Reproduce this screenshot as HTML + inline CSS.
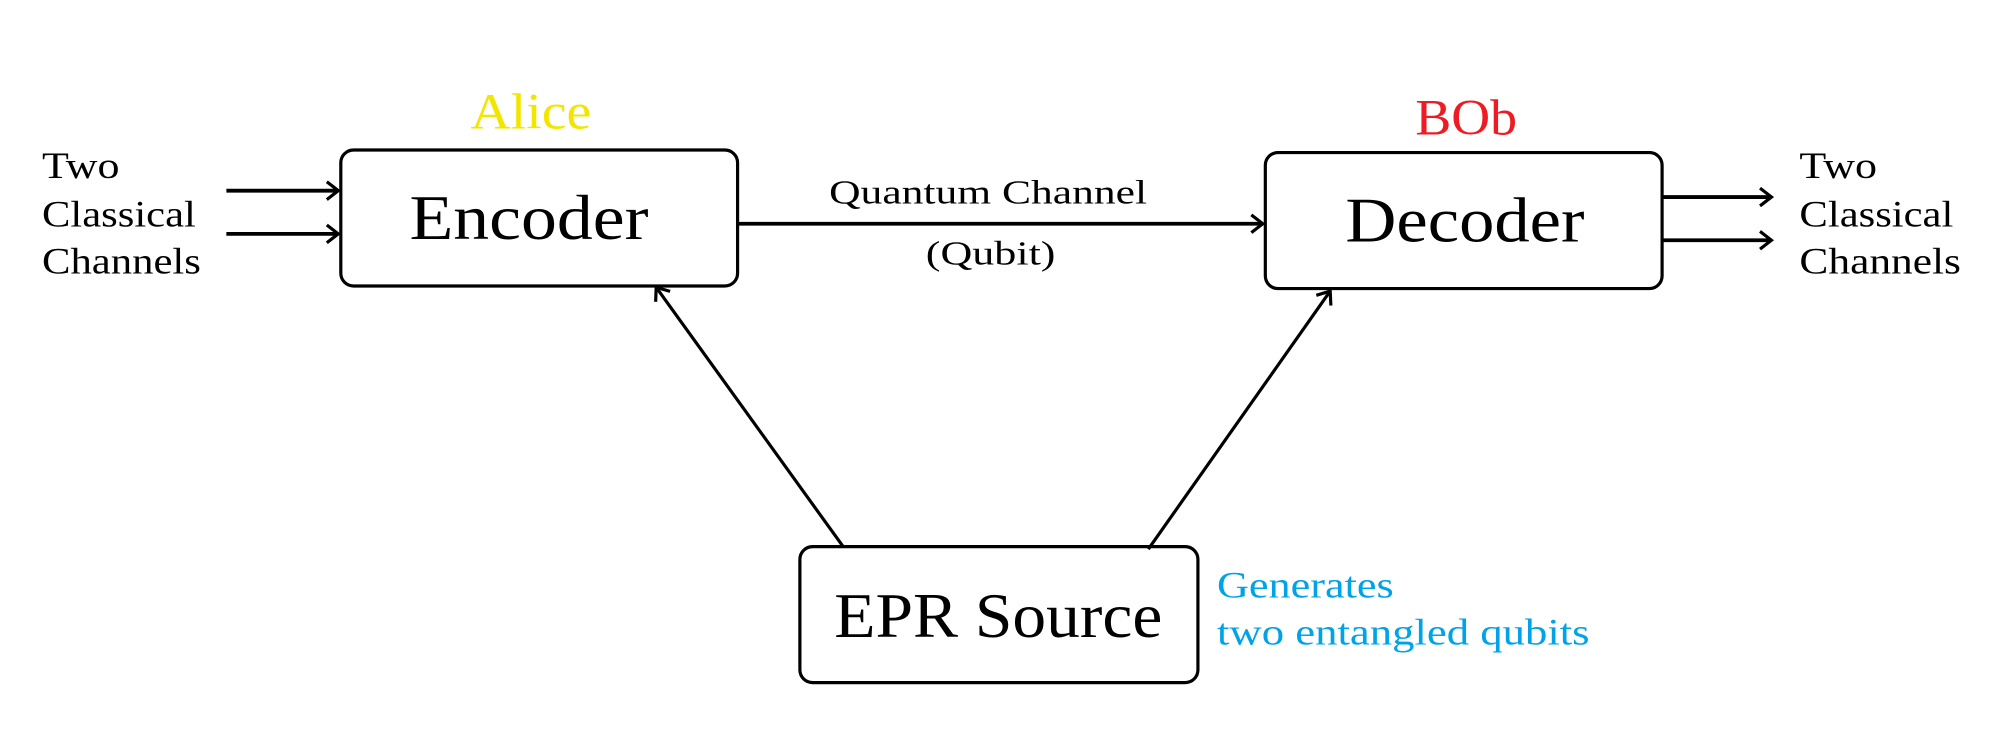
<!DOCTYPE html>
<html><head><style>html,body{margin:0;padding:0;background:#fff;}svg{display:block}</style></head>
<body>
<svg width="1994" height="750" viewBox="0 0 1568 590" preserveAspectRatio="none" xmlns="http://www.w3.org/2000/svg" font-family="'Liberation Serif', serif">
<defs>
<marker id="a" markerWidth="12" markerHeight="16" refX="10" refY="8" orient="auto" markerUnits="userSpaceOnUse">
<path d="M1,1 L10,8 L1,15" fill="none" stroke="#000" stroke-width="2.5"/>
</marker>
</defs>
<g fill="none" stroke="#000" stroke-width="2.5">
<rect x="268" y="118" width="312" height="107" rx="10"/>
<rect x="995" y="120" width="312" height="107" rx="10"/>
<rect x="629" y="430" width="313" height="107" rx="10"/>
<line x1="178" y1="150" x2="266" y2="150" marker-end="url(#a)" stroke-width="3"/>
<line x1="178" y1="184" x2="266" y2="184" marker-end="url(#a)" stroke-width="3"/>
<line x1="1307" y1="155" x2="1393" y2="155" marker-end="url(#a)" stroke-width="3"/>
<line x1="1307" y1="189" x2="1393" y2="189" marker-end="url(#a)" stroke-width="3"/>
<line x1="580" y1="176" x2="993" y2="176" marker-end="url(#a)" stroke-width="3"/>
<line x1="663" y1="430" x2="516" y2="226" marker-end="url(#a)"/>
<line x1="903" y1="432" x2="1046" y2="229" marker-end="url(#a)"/>
</g>
<g font-size="29" fill="#000" lengthAdjust="spacingAndGlyphs">
<text x="33" y="140" textLength="61" lengthAdjust="spacingAndGlyphs">Two</text>
<text x="33" y="178" textLength="121" lengthAdjust="spacingAndGlyphs">Classical</text>
<text x="33" y="215" textLength="125" lengthAdjust="spacingAndGlyphs">Channels</text>
<text x="1415" y="140" textLength="61" lengthAdjust="spacingAndGlyphs">Two</text>
<text x="1415" y="178" textLength="121" lengthAdjust="spacingAndGlyphs">Classical</text>
<text x="1415" y="215" textLength="127" lengthAdjust="spacingAndGlyphs">Channels</text>
<text x="652" y="160" font-size="27" textLength="250" lengthAdjust="spacingAndGlyphs">Quantum Channel</text>
<text x="728" y="208" font-size="27" textLength="102" lengthAdjust="spacingAndGlyphs">(Qubit)</text>
</g>
<text x="322" y="188" font-size="50" textLength="188" lengthAdjust="spacingAndGlyphs">Encoder</text>
<text x="1058" y="190" font-size="50" textLength="188" lengthAdjust="spacingAndGlyphs">Decoder</text>
<text x="656" y="501" font-size="50" textLength="258" lengthAdjust="spacingAndGlyphs">EPR Source</text>
<text x="370" y="101" font-size="40" fill="#f2e600" textLength="95" lengthAdjust="spacingAndGlyphs">Alice</text>
<text x="1113" y="106" font-size="40" fill="#ed1c24" textLength="80" lengthAdjust="spacingAndGlyphs">BOb</text>
<g font-size="29" fill="#00a2e8">
<text x="957" y="470" textLength="139" lengthAdjust="spacingAndGlyphs">Generates</text>
<text x="957" y="507" textLength="293" lengthAdjust="spacingAndGlyphs">two entangled qubits</text>
</g>
</svg>
</body></html>
